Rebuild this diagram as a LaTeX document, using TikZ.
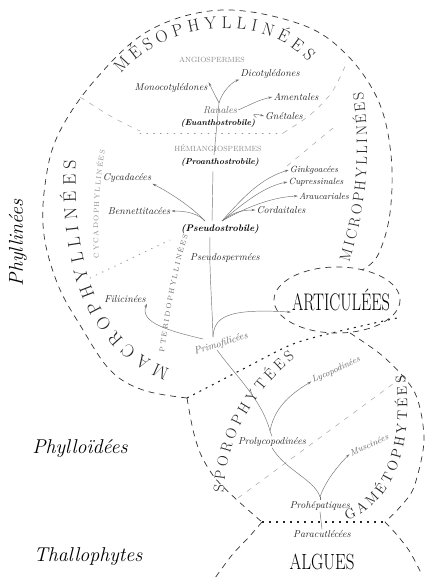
\documentclass[tikz,border=0pt]{standalone}
\usepackage{fontspec}
\usetikzlibrary{arrows.meta,decorations.text}
\begin{document}
\begin{tikzpicture}[x=1pt,y=-1pt,
  every node/.style={inner sep=1pt},
  lbl/.style={font=\itshape\fontsize{10}{11}\selectfont, text=black!85},
  slbl/.style={font=\itshape\fontsize{9}{10}\selectfont, text=black!85},
  lgray/.style={lbl, text=black!60},
  sgray/.style={slbl, text=black!60},
  boldlbl/.style={font=\bfseries\itshape\fontsize{8.5}{9}\selectfont, text=black},
  scaps/.style={font=\fontsize{7.5}{8}\selectfont\addfontfeatures{LetterSpace=35}, text=black!45},
  big/.style={font=\itshape\fontsize{20}{22}\selectfont, text=black},
  ln/.style={draw=black!55, line width=0.45pt},
  arr/.style={ln, -{Stealth[length=4pt,width=2.4pt]}},
  bound/.style={draw=black!80, line width=0.7pt, dash pattern=on 6pt off 5pt},
  faint/.style={draw=black!35, line width=0.5pt, dash pattern=on 5pt off 6pt},
  faintdot/.style={draw=black!40, line width=0.9pt, dash pattern=on 0.8pt off 6pt, line cap=round},
  heavy/.style={draw=black!85, line width=1.1pt, dash pattern=on 2pt off 5pt},
]
\fill[white] (0,0) rectangle (426,583);
\useasboundingbox (0,0) rectangle (426,583);

% ---------- boundaries ----------
\draw[bound] plot[smooth, tension=0.6] coordinates {(187,398) (143,390) (110,370) (80,325) (58,285) (44,235) (45,185) (58,135) (95,80) (150,30) (222,10) (300,24) (345,53) (378,100) (391,155) (390,213) (378,255) (362,270)};
\draw[bound] (337,300) ellipse [x radius=63, y radius=33];
\draw[bound] plot[smooth] coordinates {(187,398) (193,430) (201,455) (215,478) (237,500) (262,522)};
\draw[bound] plot[smooth] coordinates {(350,333) (385,358) (415,393) (424,440) (414,487) (400,507) (385,522)};
\draw[bound] plot[smooth] coordinates {(262,522) (248,538) (232,555) (215,578)};
\draw[bound] plot[smooth] coordinates {(385,522) (397,535) (410,552) (422,575)};
\draw[heavy] plot[smooth] coordinates {(187,398) (245,368) (293,344) (340,331) (397,318)};
\draw[heavy] (262,522) -- (385,522);

\draw[faint] plot[smooth] coordinates {(80,97) (112,117) (140,131)};
\draw[faintdot] (140,133) -- (283,133);
\draw[faint] plot[smooth] coordinates {(283,133) (310,115) (332,92) (347,62)};
\draw[faint] (287,166) -- (333,128);
\draw[faintdot] (90,278) -- (170,240);
\draw[faint] (238,498) -- (405,375);

% ---------- curved titles ----------
\path[decorate, decoration={text along path, text align={fit to path},
  text={|\color{black!85}\fontsize{17}{17}\selectfont|MÉSOPHYLLINÉES}}]
  (121,74) .. controls (165,20) and (265,12) .. (308,62);
\path[decorate, decoration={text along path, text align={fit to path},
  text={|\color{black!85}\fontsize{18}{18}\selectfont|MACROPHYLLINÉES}}]
  (170,369) .. controls (110,345) and (72,290) .. (76,160);
\path[decorate, decoration={text along path, text align={fit to path},
  text={|\color{black!85}\fontsize{15}{15}\selectfont|MICROPHYLLINÉES}}]
  (349,262) .. controls (366,210) and (372,150) .. (363,92);
\path[decorate, decoration={text along path, text align={fit to path},
  text={|\color{black!85}\fontsize{15}{15}\selectfont|SPOROPHYTÉES}}]
  (224,492) .. controls (226,440) and (250,395) .. (295,358);
\path[decorate, decoration={text along path, text align={fit to path},
  text={|\color{black!85}\fontsize{14}{14}\selectfont|GAMÉTOPHYTÉES}}]
  (347,520) .. controls (397,502) and (414,440) .. (405,375);
\path[decorate, decoration={text along path, text align={fit to path},
  text={|\color{black!45}\fontsize{7}{7}\selectfont|CYCADOPHYLLINÉES}}]
  (99,258) .. controls (97,220) and (99,185) .. (105,150);
\path[decorate, decoration={text along path, text align={fit to path},
  text={|\color{black!60}\fontsize{7}{7}\selectfont|PTERIDOPHYLLINÉES}}]
  (164,352) .. controls (170,310) and (177,270) .. (188,235);

% ---------- labels ----------
\node[scaps] (angio) at (212,60) {ANGIOSPERMES};
\node[lbl] (dico) at (270,74) {Dicotylédones};
\node[lbl] (mono) at (171,88) {Monocotylédones};
\node[lbl] (amen) at (296,97) {Amentales};
\node[lgray] (ranal) at (220,110) {Ranales};
\node[boldlbl] (euan) at (218,123) {(Euanthostrobile)};
\node[lbl] (gnet) at (284,116) {Gnétales};
\node[scaps] (hemi) at (218,148) {HÉMIANGIOSPERMES};
\node[boldlbl] (proan) at (220,162) {(Proanthostrobile)};
\node[lbl] (cyca) at (127,178) {Cycadacées};
\node[slbl] (ginkgo) at (314,170) {Ginkgoacées};
\node[slbl] (cupr) at (316,182) {Cupressinales};
\node[slbl] (arau) at (324,196) {Araucariales};
\node[lbl] (cord) at (281,210) {Cordaitales};
\node[lbl] (benn) at (139,211) {Bennettitacées};
\node[boldlbl, font=\bfseries\itshape\fontsize{9.5}{10}\selectfont] (pseudo) at (220,229) {(Pseudostrobile)};
\node[lbl] (pspe) at (225,258) {Pseudospermées};
\node[lbl] (fili) at (125,299) {Filicinées};
\node[lgray, rotate=18] (prim) at (221,344) {Primofilicées};
\node (artic) at (341,300) {\scalebox{0.68}[1]{\fontsize{24}{24}\selectfont ARTICULÉES}};
\node[sgray, rotate=25] (lyco) at (336,370) {Lycopodinées};
\node[lbl] (prol) at (272,442) {Prolycopodinées};
\node[sgray, rotate=25] (musc) at (369,445) {Muscinées};
\node[lbl] (prohe) at (320,506) {Prohépatiques};
\node[lbl] (para) at (322,534) {Paracutlécées};
\node (algues) at (322,562) {\scalebox{0.77}[1]{\fontsize{22}{22}\selectfont ALGUES}};
\node[big, rotate=90] (phyllin) at (18,243) {Phyllinées};
\node[big] (phylloid) at (80,449) {Phylloïdées};
\node[big] (thallo) at (88,557) {Thallophytes};

% ---------- junctions ----------
\coordinate (jRan) at (219,103);
\coordinate (jPL) at (205,221);
\coordinate (jPR) at (222,221);
\coordinate (jPrim) at (213,337);
\coordinate (jPrimL) at (203,339);
\coordinate (jPrimD) at (217,350);
\coordinate (jProl) at (270,431);
\coordinate (jProh) at (320,497);
\coordinate (t1) at (210,237);
\coordinate (t2) at (212,221);
\coordinate (t3) at (213,171);
\coordinate (t4) at (214,155);

% ---------- connectors ----------
\draw[ln] (jPrim) .. controls (212,300) and (209,270) .. (t1);
\draw[ln] (t2) -- (t3);
\draw[ln] (t4) -- (jRan);
\draw[arr] (jRan) -- (mono.north east);
\draw[arr] (jRan) .. controls (222,92) and (232,82) .. (dico.south west);
\draw[arr] (ranal.east) .. controls (250,105) and (258,100) .. (amen.west);
\draw[arr] (euan.north east) .. controls (250,113) and (256,114) .. (gnet.west);

\draw[arr] (jPL) .. controls (190,205) and (165,190) .. (cyca.south east);
\draw[arr] (jPL) .. controls (198,214) and (188,211) .. (benn.east);
\draw[arr] (jPR) .. controls (245,195) and (262,178) .. (ginkgo.west);
\draw[arr] (jPR) .. controls (247,200) and (266,186) .. (cupr.west);
\draw[arr] (jPR) .. controls (250,205) and (275,197) .. (arau.west);
\draw[arr] (jPR) .. controls (233,212) and (243,210) .. (cord.west);

\draw[arr] (jPrimL) .. controls (165,330) and (140,322) .. (fili.south east);
\draw[arr] (jPrim) .. controls (214,318) and (225,308) .. (artic.south west);
\draw[ln] (jPrimD) .. controls (235,375) and (262,400) .. (jProl);
\draw[arr] (jProl) .. controls (274,410) and (287,396) .. (lyco.west);
\draw[ln] (jProl) -- (prol.north);
\draw[ln] (prol.south) .. controls (285,470) and (315,480) .. (jProh);
\draw[arr] (jProh) .. controls (325,482) and (336,468) .. (musc.west);
\draw[ln] (jProh) -- (prohe.north);
\draw[ln] (prohe.south) -- (para.north);
\end{tikzpicture}
\end{document}
